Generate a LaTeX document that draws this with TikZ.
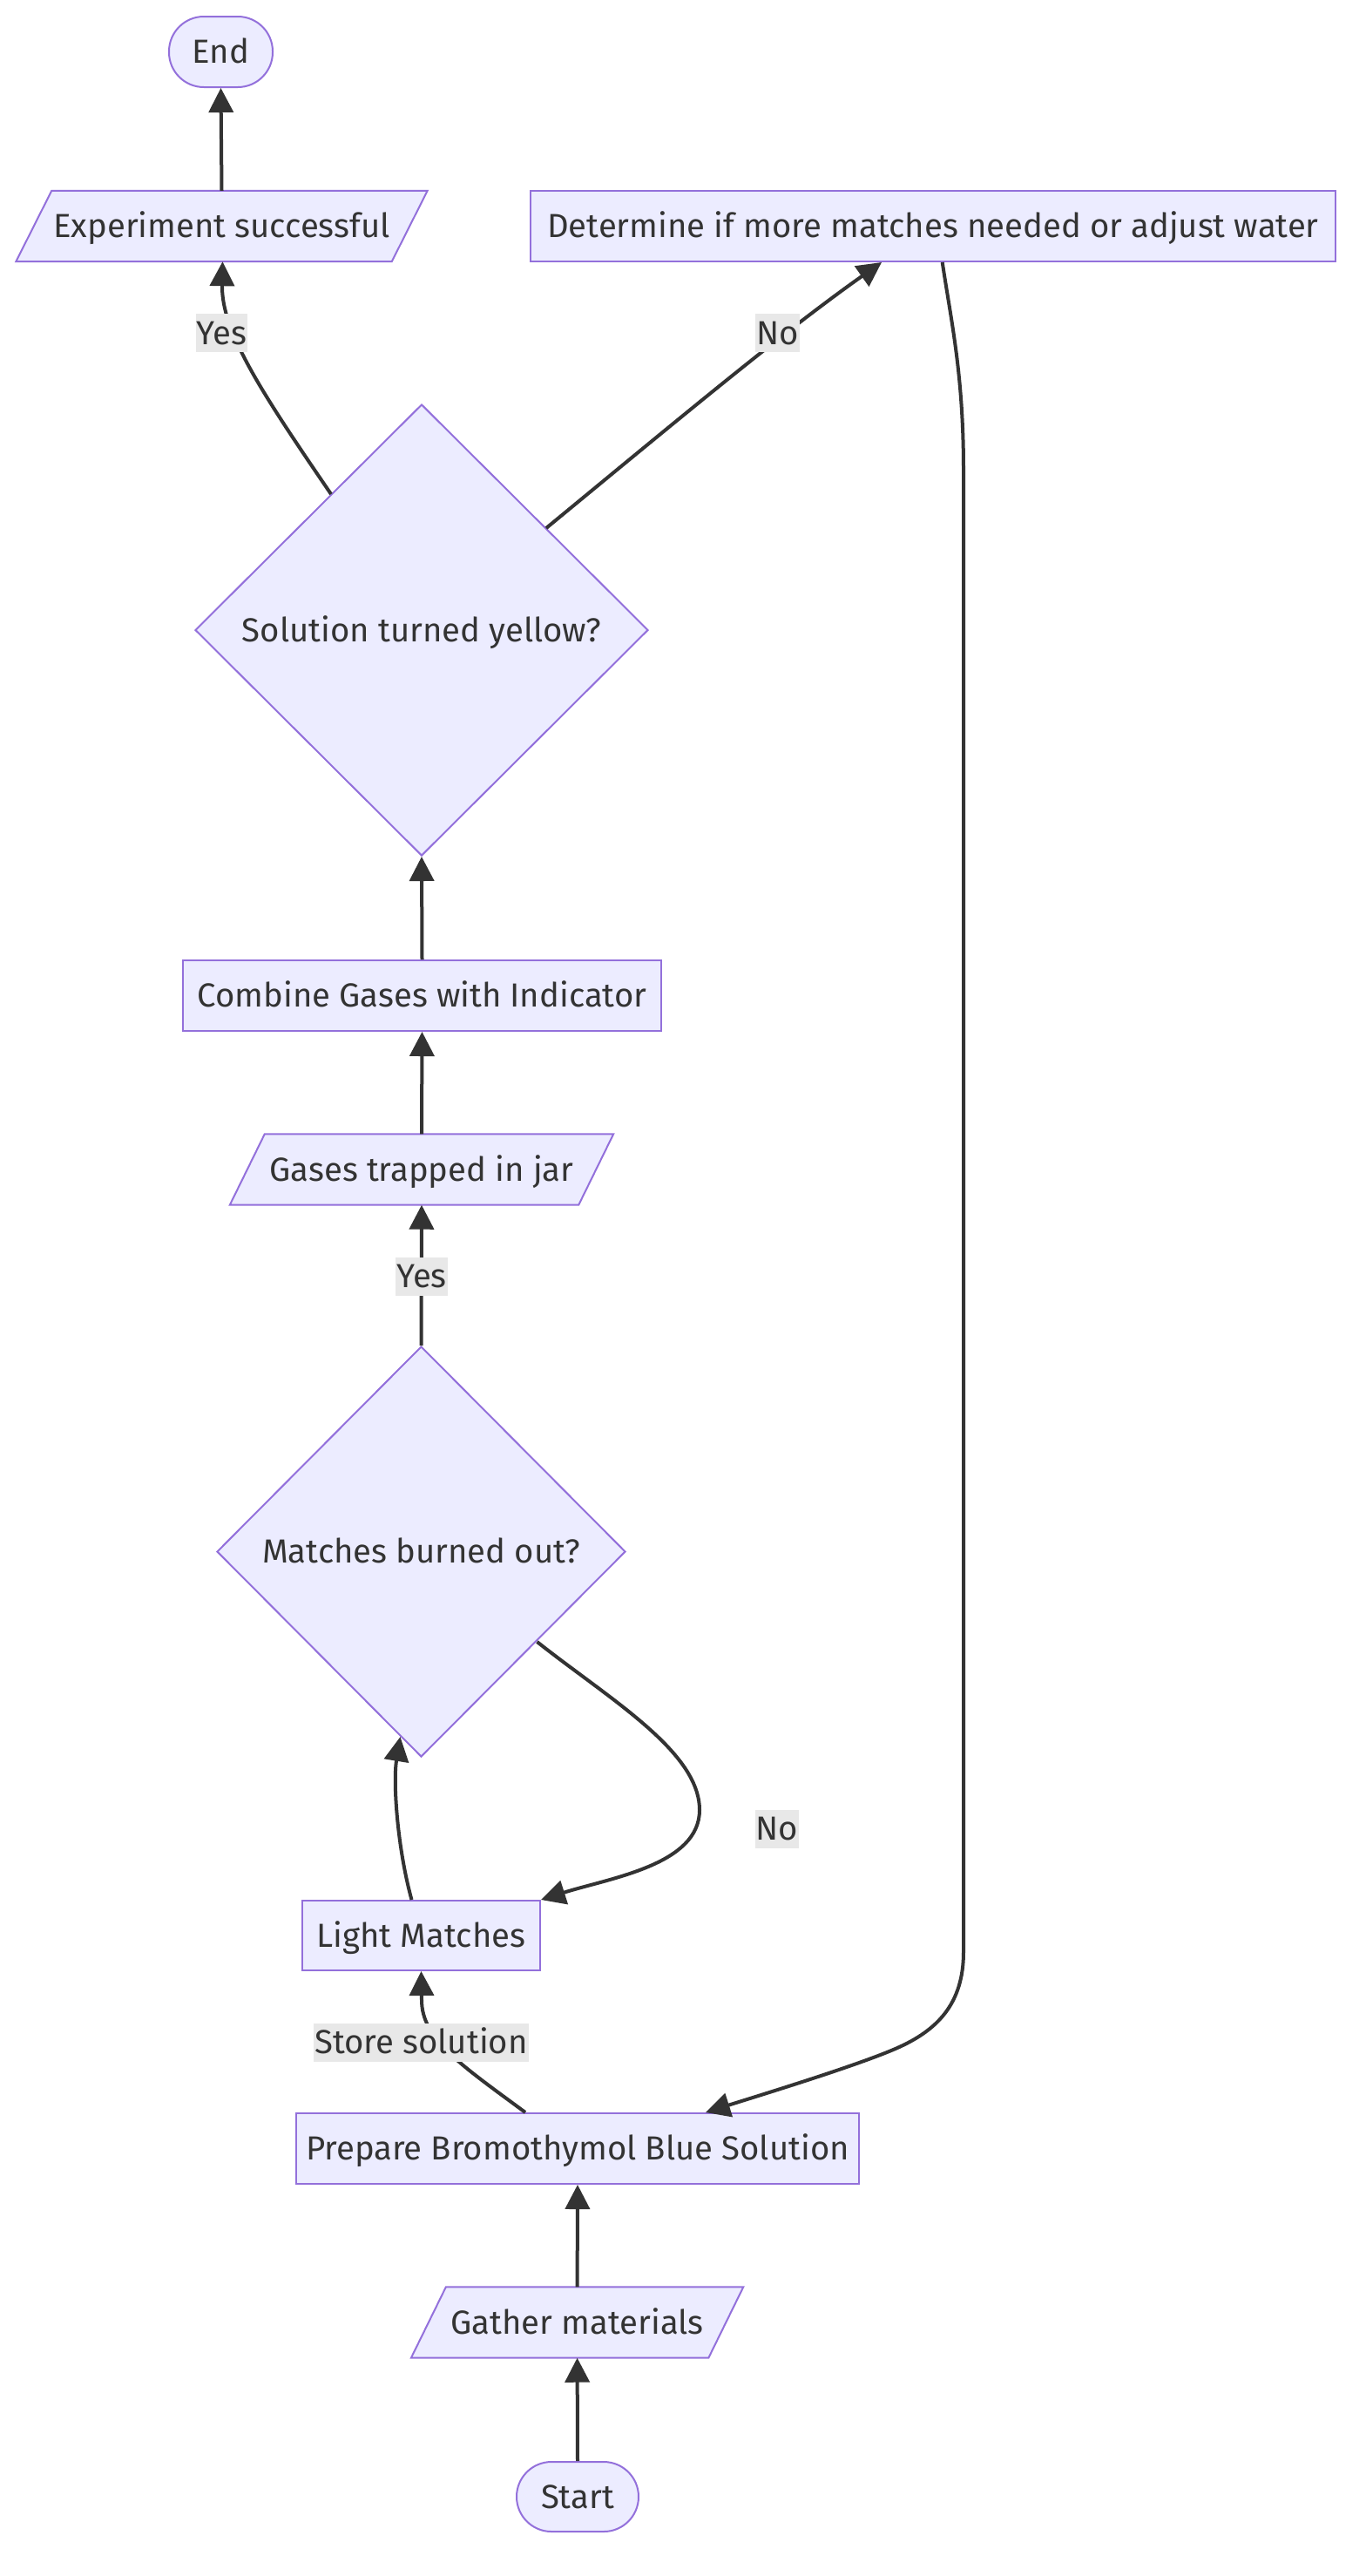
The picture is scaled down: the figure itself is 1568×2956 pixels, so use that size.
\documentclass[tikz,border=0pt]{standalone}
\usepackage{fontspec}
\setmainfont{Fira Sans}
\usetikzlibrary{arrows.meta,shapes.geometric,backgrounds}

\definecolor{nodefill}{HTML}{ECECFF}
\definecolor{nodeline}{HTML}{9370DB}
\definecolor{ink}{HTML}{333333}
\definecolor{labelbg}{HTML}{E8E8E8}

\begin{document}
\begin{tikzpicture}[x=1pt,y=-1pt,
  every node/.style={font=\fontsize{38.3}{46}\selectfont, text=ink, text height=26.4pt, text depth=0pt},
  box/.style={rectangle, draw=nodeline, fill=nodefill, line width=2pt, minimum height=81pt, inner sep=0pt},
  term/.style={box, rounded corners=40pt},
  io/.style={rectangle, minimum height=81pt, inner sep=0pt},
  decision/.style={diamond, aspect=1, draw=nodeline, fill=nodefill, line width=2pt, inner sep=0pt},
  elabel/.style={rectangle, fill=labelbg, inner xsep=1pt, inner ysep=0pt, minimum height=44pt},
  flow/.style={draw=ink, line width=4pt, -{Triangle[length=28pt,width=28pt]}},
  iofill/.style={draw=nodeline, fill=nodefill, line width=2pt, line join=miter},
]
\useasboundingbox (0,0) rectangle (1568,2956);

% ---- nodes ----
\node[term, minimum width=119pt] (end) at (253.5,59.5) {End};
\node[io, minimum width=431pt] (exp) at (254.5,259.5) {Experiment successful};
\node[box, minimum width=924pt] (det) at (1071,259.5) {Determine if more matches needed or adjust water};
\node[decision, minimum width=520pt, minimum height=518pt] (d1) at (484,723) {Solution turned yellow?};
\node[box, minimum width=549pt] (comb) at (484.5,1142.5) {Combine Gases with Indicator};
\node[io, minimum width=400pt] (gases) at (484,1342) {Gases trapped in jar};
\node[decision, minimum width=469pt, minimum height=471pt] (d2) at (483.5,1780.5) {Matches burned out?};
\node[box, minimum width=273pt, minimum height=80pt] (light) at (483.5,2221) {Light Matches};
\node[box, minimum width=646pt] (prep) at (663,2465.5) {Prepare Bromothymol Blue Solution};
\node[io, minimum width=341pt] (gather) at (662.6,2665) {Gather materials};
\node[term, minimum width=140pt, minimum height=80pt] (start) at (663,2865) {Start};

% ---- input/output parallelograms behind their labels ----
\begin{scope}[on background layer]
  \foreach \n/\s in {exp/20.5pt, gases/20pt, gather/20pt}
    \path[iofill] ([xshift=-\s]\n.south west) -- ([xshift=-\s]\n.south east)
      -- ([xshift=\s]\n.north east) -- ([xshift=\s]\n.north west) -- cycle;
\end{scope}

% ---- connectors ----
\draw[flow] (start.north) -- (gather.south);
\draw[flow] (gather.north) -- (prep.south);
\draw[flow] ([xshift=-60pt]prep.north) .. controls (530,2370) and (484,2340) .. (484,2295) -- (light.south);
\draw[flow] ([xshift=-11pt]light.north) .. controls (456,2120) and (451,2045) .. ([xshift=-24pt,yshift=24pt]d2.south);
\draw[flow] ([xshift=133pt,yshift=133pt]d2.south) .. controls (700,1950) and (803,2010) .. (803,2077)
   .. controls (803,2140) and (700,2155) .. (light.north east);
\draw[flow] (d2.north) -- (gases.south);
\draw[flow] (gases.north) -- (comb.south);
\draw[flow] (comb.north) -- (d1.south);
\draw[flow] ([xshift=-104pt,yshift=-104pt]d1.north) .. controls (300,450) and (254,380) .. ([xshift=1pt]exp.south);
\draw[flow] ([xshift=143pt,yshift=-143pt]d1.north) .. controls (780,480) and (900,380) .. ([xshift=-59pt]det.south);
\draw[flow] ([xshift=10.7pt]det.south) .. controls (1092,370) and (1106,430) .. (1106,540) -- (1106,2240)
   .. controls (1106,2300) and (1075,2330) .. (1030,2350)
   .. controls (985,2370) and (870,2405) .. ([xshift=147pt]prep.north);
\draw[flow] (exp.north) -- (end.south);

% ---- edge labels ----
\node[elabel] (lyes1) at (254.5,382) {Yes};
\node[elabel] (lno1) at (892.5,382) {No};
\node[elabel] (lyes2) at (484,1464.5) {Yes};
\node[elabel] (lno2) at (892,2098.5) {No};
\node[elabel] (lstore) at (483.5,2343.5) {Store solution};
\end{tikzpicture}
\end{document}
